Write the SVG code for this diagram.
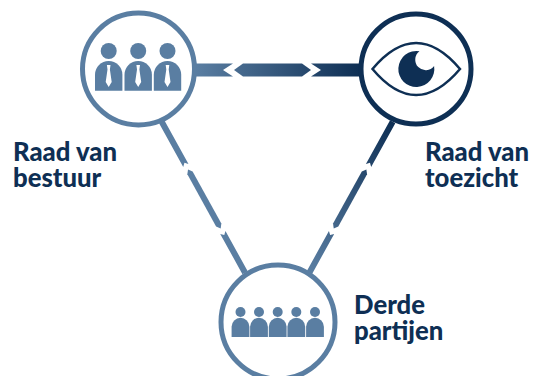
<svg xmlns="http://www.w3.org/2000/svg" width="536" height="376" viewBox="0 0 536 376">
<style>
.l{fill:#5a7ea2}
.ring{fill:#fff;stroke-width:5}
.lt{stroke:#5a7ea2}
.dk{stroke:#0e2f54}
.t{font-family:Lato,"Liberation Sans",sans-serif;font-weight:900;font-size:25.700px;fill:#0e2f54}
.tie{fill:#fff}
</style>
<defs>
<linearGradient id="h" gradientUnits="userSpaceOnUse" x1="196" y1="0" x2="360" y2="0"><stop offset="0" stop-color="#5a7ea2"/><stop offset="1" stop-color="#0e2f54"/></linearGradient>
<linearGradient id="d" gradientUnits="userSpaceOnUse" x1="0" y1="0" x2="172" y2="0"><stop offset="0" stop-color="#0e2f54"/><stop offset="1" stop-color="#5a7ea2"/></linearGradient>
<g id="diag">
<path d="M0-3H50L47 0 50 3H0Z"/>
<path d="M54.500 0 58.500-3H118L122 0 118 3H58.500Z"/>
<path d="M126.500-3H172.500V3H126.500L129.500 0Z"/>
</g>
<g id="man">
<circle cx="0" cy="-17" r="8"/>
<path d="M-13.700 22.700V6.700A13.700 13.700 0 0 1 13.700 6.700V22.700Z"/>
<path class="tie" d="M-1.800-3H1.800L1.200 1.500 3 14 0 19-3 14-1.200 1.500Z"/>
</g>
<g id="p">
<circle cx="0" cy="-12" r="5"/>
<path d="M-8.900 13V2.700A8.900 8.900 0 0 1 8.900 2.700V13Z"/>
</g>
</defs>
<g id="connectors">
<path fill="url(#h)" d="M196 63.500H233L223 70 233 76.500H196Z"/>
<path fill="url(#h)" d="M234 70 243 63.500H302L311 70 302 76.500H243Z"/>
<path fill="url(#h)" d="M311 63.500H361V76.500H311L321 70Z"/>
<use href="#diag" class="l" transform="translate(161.700,121.700) rotate(61.100)"/>
<use href="#diag" fill="url(#d)" transform="translate(392.700,121.700) rotate(118.900)"/>
</g>
<g id="node-bestuur">
<circle class="ring lt" cx="138.500" cy="69" r="56"/>
<g class="l"><use href="#man" transform="translate(108.700,68)"/><use href="#man" transform="translate(138.200,68)"/><use href="#man" transform="translate(167.500,68)"/></g>
<text class="t"><tspan x="13" y="161">Raad van</tspan><tspan x="13" y="187">bestuur</tspan></text>
</g>
<g id="node-toezicht">
<circle class="ring dk" cx="416" cy="69" r="55"/>
<path d="M372.500 69Q416 17 460 69 416 121 372.500 69Z" fill="none" stroke="#0e2f54" stroke-width="2.500"/>
<path fill="#0e2f54" d="M419.500 51.300A18 18 0 1 0 434.100 66.100 10.500 10.500 0 1 1 419.500 51.300Z"/>
<text class="t"><tspan x="425" y="161">Raad van</tspan><tspan x="425" y="187">toezicht</tspan></text>
</g>
<g id="node-derde">
<circle class="ring lt" cx="278" cy="322" r="57"/>
<g class="l"><use href="#p" transform="translate(240.500,324)"/><use href="#p" transform="translate(259,324)"/><use href="#p" transform="translate(277.700,324)"/><use href="#p" transform="translate(296.300,324)"/><use href="#p" transform="translate(315,324)"/></g>
<text class="t"><tspan x="354" y="314">Derde</tspan><tspan x="354" y="340">partijen</tspan></text>
</g>
</svg>
